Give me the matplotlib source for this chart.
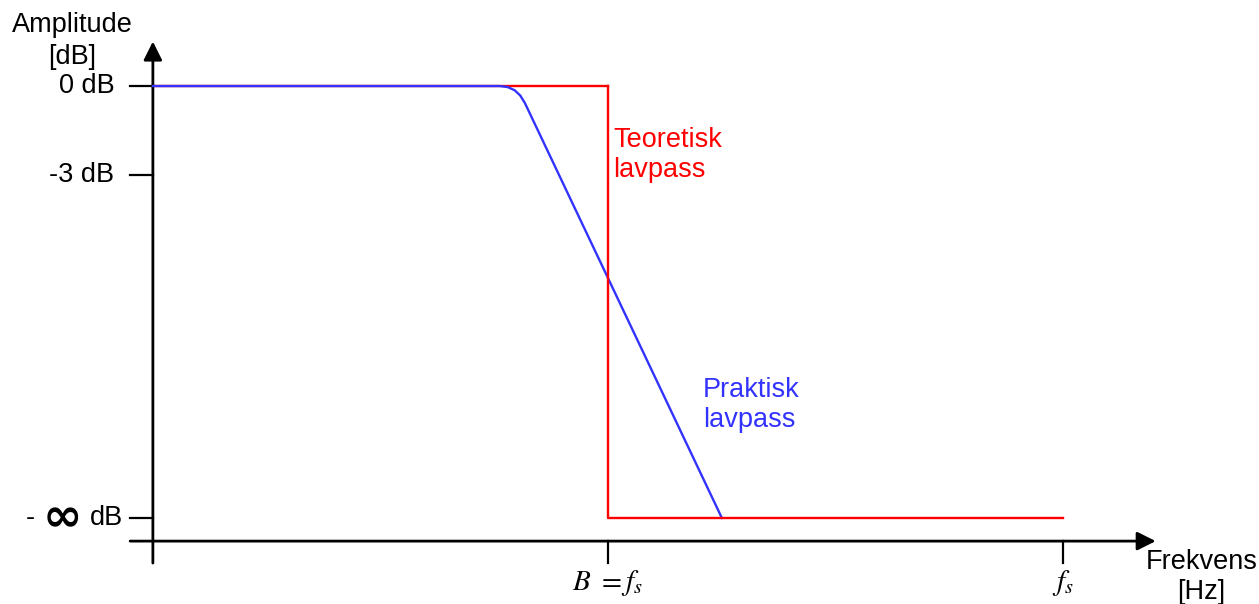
import matplotlib
matplotlib.use("Agg")
import matplotlib.pyplot as plt

# frequency in units of B (B = 1, f_s = 2), amplitude in dB; -inf drawn at NEG_INF
NEG_INF = -14.56
ideal_f = [0.0, 1.0, 1.0, 2.0]
ideal_db = [0.0, 0.0, NEG_INF, NEG_INF]
real_f = [0.0, 0.7626, 0.780, 0.7951, 0.8075, 0.8176, 1.2505]
real_db = [0.0, 0.0, -0.036, -0.143, -0.322, -0.573, NEG_INF]
ytick_vals = [0.0, -3.0]
ytick_labels = ["0 dB", "-3 dB"]
xtick_vals = [1.0, 2.0]
xtick_labels = [r"$B\ = f_s$", r"$f_s$"]

plt.rcParams["font.family"] = ["Liberation Sans", "DejaVu Sans"]
plt.rcParams["mathtext.fontset"] = "stix"

fig = plt.figure(figsize=(12.59, 6.04), dpi=100)
ax = fig.add_axes([0, 0, 1, 1])
ax.set_xlim(-0.336, 2.431)
ax.set_ylim(-17.46, 2.9)
ax.axis("off")

x_axis_y = -15.34
tick_len_x = 0.05
tick_len_y = 0.74
fs = 19.5

# axes with arrows
ax.annotate("", xy=(0, 1.5), xytext=(0, -16.08),
            arrowprops=dict(arrowstyle="-|>", mutation_scale=28, lw=2, color="black",
                            shrinkA=0, shrinkB=0))
ax.annotate("", xy=(2.204, x_axis_y), xytext=(-0.05, x_axis_y),
            arrowprops=dict(arrowstyle="-|>", mutation_scale=28, lw=2, color="black",
                            shrinkA=0, shrinkB=0))

for v, lab in zip(ytick_vals + [NEG_INF], ytick_labels + [""]):
    ax.plot([-tick_len_x, 0], [v, v], color="black", lw=1.6)
    if lab:
        ax.text(-0.085, v, lab, ha="right", va="center", fontsize=fs)

# "- ∞ dB" label with a large infinity sign
ax.text(-0.066, NEG_INF, "dB", ha="right", va="center", fontsize=fs)
ax.text(-0.2, NEG_INF - 0.02, "\u221e", ha="center", va="center", fontsize=34,
        family="DejaVu Sans", fontweight="bold")
ax.text(-0.27, NEG_INF, "-", ha="center", va="center", fontsize=fs)

for v, lab in zip(xtick_vals, xtick_labels):
    ax.plot([v, v], [x_axis_y, x_axis_y - tick_len_y], color="black", lw=1.6)
    ax.text(v, x_axis_y - 1.42, lab, ha="center", va="center", fontsize=21)

ax.plot(real_f, real_db, color="#3333ff", lw=1.7, zorder=3)
ax.plot(ideal_f[:2], ideal_db[:2], color="#ff0000", lw=1.7, zorder=2)
ax.plot(ideal_f[1:], ideal_db[1:], color="#ff0000", lw=1.7, zorder=4)

ax.text(-0.178, 2.056, "Amplitude", ha="center", va="center", fontsize=fs)
ax.text(-0.178, 0.978, "[dB]", ha="center", va="center", fontsize=fs)
ax.text(2.305, -16.04, "Frekvens", ha="center", va="center", fontsize=fs)
ax.text(2.305, -17.06, "[Hz]", ha="center", va="center", fontsize=fs)

ax.text(1.011, -2.31, "Teoretisk\nlavpass", color="#ff0000", ha="left", va="center",
        fontsize=fs, linespacing=1.2)
ax.text(1.209, -10.75, "Praktisk\nlavpass", color="#3333ff", ha="left", va="center",
        fontsize=fs, linespacing=1.2)

fig.savefig("out.png", dpi=100)
